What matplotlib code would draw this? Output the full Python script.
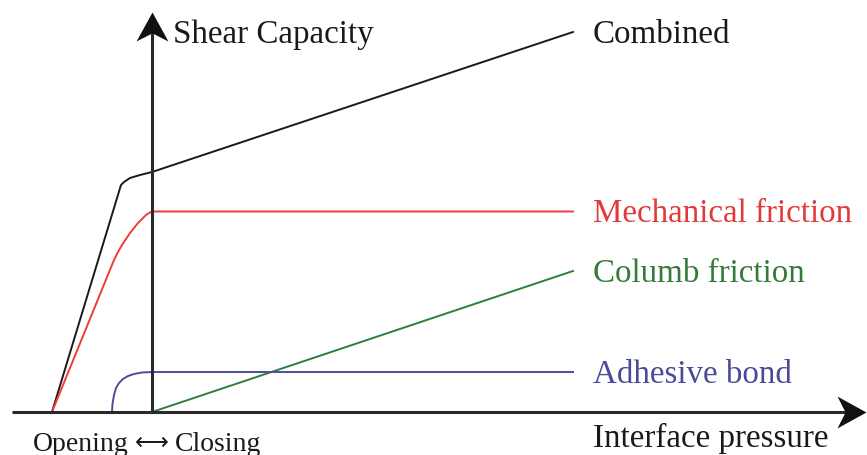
import matplotlib
matplotlib.use("Agg")
import matplotlib.pyplot as plt
from matplotlib.path import Path
from matplotlib.markers import MarkerStyle
from matplotlib.transforms import Affine2D

# ---- data (schematic units: x = interface pressure, y = shear capacity) ----
combined_x = [-100, -31, -28, -22, -12, 0, 421]
combined_y = [0, 227, 230, 234, 237, 240, 380]

mech_x = [-100, -38, -34, -30, -26, -22, -18, -14, -10, -6, -3, 0, 421]
mech_y = [0, 152, 160, 167, 173, 179, 184, 189, 193, 197, 199, 200.5, 200.5]

columb_x = [0, 421]
columb_y = [0, 141]

adh_x = [-40, -39.5, -38, -36, -33, -29, -24, -18, -10, 0, 421]
adh_y = [0, 8, 17, 24, 29, 33, 36, 38, 39.5, 40, 40]

series_labels = ["Combined", "Mechanical friction", "Columb friction", "Adhesive bond"]
x_label = "Interface pressure"
y_label = "Shear Capacity"
open_label, arrow_label, close_label = "Opening", "\u27f7", "Closing"

# ---- styling ----
c_black = "#1a1a1a"
c_red = "#ee3b3b"
c_green = "#2f7f3a"
c_blue = "#4d4da0"
txt_red = "#e23a3a"
txt_green = "#347a3a"
txt_blue = "#4a4a96"
serif = ["Liberation Serif", "DejaVu Serif"]

fig = plt.figure(figsize=(8.67, 4.56), dpi=100)
ax = fig.add_axes([0, 0, 1, 1])
ax.set_xlim(-152, 715)
ax.set_ylim(-43, 413)
ax.axis("off")

axis_col = "#2a2a2a"
x_axis_start, x_axis_end = -140, 714
y_axis_end = 400

# axes lines
ax.plot([x_axis_start, x_axis_end - 20], [0, 0], color=axis_col, lw=2.2,
        solid_capstyle="butt", zorder=3)
ax.plot([0, 0], [0, y_axis_end - 20], color=axis_col, lw=2.2,
        solid_capstyle="butt", zorder=3)

# stealth arrow heads
head = Path([(0, 0), (-1, 0.55), (-0.72, 0), (-1, -0.55), (0, 0)],
            [Path.MOVETO, Path.LINETO, Path.LINETO, Path.LINETO, Path.CLOSEPOLY])
m_right = MarkerStyle(head)
m_up = MarkerStyle(head, transform=Affine2D().rotate_deg(90))
ms = 2 * 29 * 72 / 100
ax.plot([x_axis_end], [0], marker=m_right, ms=ms, color="#111111", mew=0, zorder=4)
ax.plot([0], [y_axis_end], marker=m_up, ms=ms, color="#111111", mew=0, zorder=4)

# curves
lw = 1.4
ax.plot(combined_x, combined_y, color=c_black, lw=lw, zorder=2, solid_joinstyle="round")
ax.plot(mech_x, mech_y, color=c_red, lw=lw, zorder=2, solid_joinstyle="round")
ax.plot(columb_x, columb_y, color=c_green, lw=lw, zorder=2)
ax.plot(adh_x, adh_y, color=c_blue, lw=lw, zorder=2, solid_joinstyle="round")

# series labels at line ends
fs = 23.8
ends = [(combined_x[-1], combined_y[-1], c_black),
        (mech_x[-1], mech_y[-1], txt_red),
        (columb_x[-1], columb_y[-1], txt_green),
        (adh_x[-1], adh_y[-1], txt_blue)]
for lab, (xe, ye, col) in zip(series_labels, ends):
    ax.annotate(lab, xy=(xe, ye), xytext=(20, -10), textcoords="offset pixels",
                ha="left", va="baseline", fontsize=fs, family=serif, color=col)

# axis labels
ax.annotate(y_label, xy=(0, y_axis_end), xytext=(21, -30), textcoords="offset pixels",
            ha="left", va="baseline", fontsize=fs, family=serif, color=c_black)
ax.annotate(x_label, xy=(columb_x[-1], 0), xytext=(20, -34), textcoords="offset pixels",
            ha="left", va="baseline", fontsize=fs, family=serif, color=c_black)

# "Opening <-> Closing" built from three pieces
fs2 = 20
x0_pix = ax.transData.transform((0, 0))[0]
t1 = ax.annotate(open_label, xy=(0, 0), xytext=(-119, -38), textcoords="offset pixels",
                 ha="left", va="baseline", fontsize=fs2, family=serif, color=c_black)
fig.canvas.draw()
r = fig.canvas.get_renderer()
bb1 = t1.get_window_extent(r)
t2 = ax.annotate(arrow_label, xy=(0, 0), xytext=(bb1.x1 - x0_pix + 6, -37),
                 textcoords="offset pixels", ha="left", va="baseline",
                 fontsize=17, family=["DejaVu Sans"], color=c_black)
fig.canvas.draw()
bb2 = t2.get_window_extent(r)
ax.annotate(close_label, xy=(0, 0), xytext=(bb2.x1 - x0_pix + 6, -38),
            textcoords="offset pixels", ha="left", va="baseline",
            fontsize=fs2, family=serif, color=c_black)

fig.savefig("out.png", dpi=100)
